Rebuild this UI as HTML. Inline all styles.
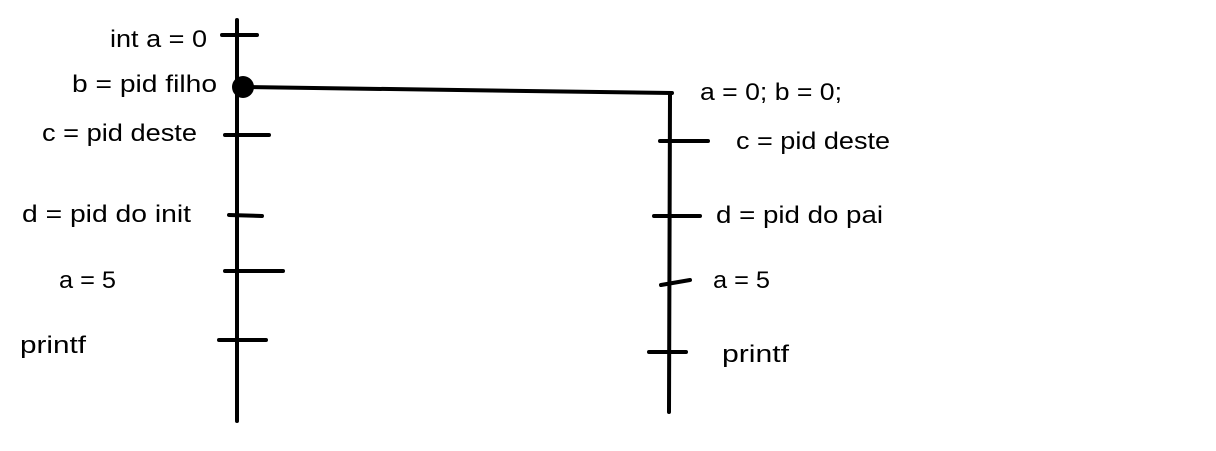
<!DOCTYPE html>
<html>
<head>
<meta charset="utf-8">
<style>
  html,body{margin:0;padding:0;background:#fff;}
  svg{display:block;}
  text{font-family:"Liberation Sans",sans-serif;font-size:24px;fill:#000;}
</style>
</head>
<body>
<svg width="1216" height="451" viewBox="0 0 1216 451">
  <g stroke="#000" stroke-width="4" stroke-linecap="round" fill="none">
    <line x1="237" y1="20" x2="237" y2="421"/>
    <line x1="243" y1="87" x2="672" y2="93"/>
    <line x1="670" y1="93" x2="669" y2="412"/>
    <line x1="222" y1="35" x2="257" y2="35"/>
    <line x1="225" y1="135" x2="269" y2="135"/>
    <line x1="229" y1="215" x2="262" y2="216"/>
    <line x1="225" y1="271" x2="283" y2="271"/>
    <line x1="219" y1="340" x2="266" y2="340"/>
    <line x1="660" y1="141" x2="708" y2="141"/>
    <line x1="654" y1="216" x2="700" y2="216"/>
    <line x1="661" y1="285" x2="690" y2="280"/>
    <line x1="649" y1="352" x2="686" y2="352"/>
  </g>
  <circle cx="243" cy="87" r="11" fill="#000"/>
  <text x="110" y="47" textLength="97" lengthAdjust="spacingAndGlyphs">int a = 0</text>
  <text x="72" y="92" textLength="145" lengthAdjust="spacingAndGlyphs">b = pid filho</text>
  <text x="42" y="141" textLength="155" lengthAdjust="spacingAndGlyphs">c = pid deste</text>
  <text x="22" y="222" textLength="169" lengthAdjust="spacingAndGlyphs">d = pid do init</text>
  <text x="59" y="288" textLength="57" lengthAdjust="spacingAndGlyphs">a = 5</text>
  <text x="20" y="353" textLength="66" lengthAdjust="spacingAndGlyphs">printf</text>
  <text x="700" y="100" textLength="142" lengthAdjust="spacingAndGlyphs">a = 0; b = 0;</text>
  <text x="736" y="149" textLength="154" lengthAdjust="spacingAndGlyphs">c = pid deste</text>
  <text x="716" y="223" textLength="167" lengthAdjust="spacingAndGlyphs">d = pid do pai</text>
  <text x="713" y="288" textLength="57" lengthAdjust="spacingAndGlyphs">a = 5</text>
  <text x="722" y="362" textLength="67" lengthAdjust="spacingAndGlyphs">printf</text>
</svg>
</body>
</html>
